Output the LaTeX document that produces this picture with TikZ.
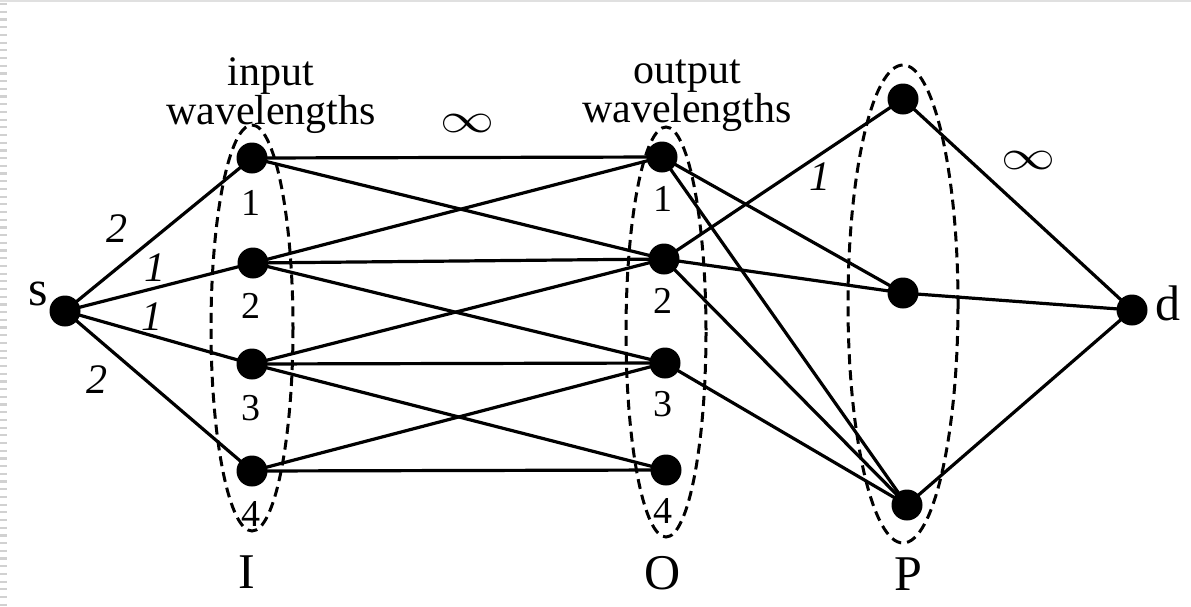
\documentclass[tikz,border=0pt]{standalone}
\usepackage{fontspec}
\setmainfont{Liberation Serif}
\begin{document}
\begin{tikzpicture}[x=1pt,y=-1pt,
  vtx/.style={circle,fill=black,inner sep=0pt,minimum size=31pt},
  link/.style={line width=3.2pt},
  grp/.style={line width=3pt,dash pattern=on 10pt off 6pt},
  idx/.style={font=\fontsize{38}{40}\selectfont,inner sep=0pt},
  wt/.style={font=\fontsize{42}{44}\selectfont\itshape,inner sep=0pt},
  grouptitle/.style={font=\fontsize{42}{33}\selectfont,align=center,inner sep=0pt},
  setname/.style={font=\fontsize{50}{54}\selectfont,inner sep=0pt},
  endname/.style={font=\fontsize{50}{54}\selectfont,inner sep=0pt}]
\useasboundingbox (0,0) rectangle (1191,606);
% faint frame on the top and left edges
\draw[black!12,line width=2pt] (0,1) -- (1191,1);
\draw[black!18,line width=7pt,dash pattern=on 2.2pt off 5.5pt] (3.5,3) -- (3.5,606);

% wavelength groups
\draw[grp] (252,328) ellipse [x radius=41,y radius=203];
\draw[grp] (666,332) ellipse [x radius=40,y radius=205];
\draw[grp] (903,304) ellipse [x radius=55,y radius=239];

% vertices
\node[vtx] (s) at (65,311) {};
\node[vtx] (i1) at (252,158) {};
\node[vtx] (i2) at (253,263) {};
\node[vtx] (i3) at (252,364) {};
\node[vtx] (i4) at (252,471) {};
\node[vtx] (o1) at (662,157) {};
\node[vtx] (o2) at (664,259) {};
\node[vtx] (o3) at (665,363) {};
\node[vtx] (o4) at (666,470) {};
\node[vtx] (p1) at (903,99) {};
\node[vtx] (p2) at (903,293) {};
\node[vtx] (p3) at (907,505) {};
\node[vtx] (d) at (1132,310) {};

% edges
\foreach \a/\b in {s/i1,s/i2,s/i3,s/i4,
  i1/o1,i1/o2,i2/o1,i2/o2,i2/o3,i3/o2,i3/o3,i3/o4,i4/o3,i4/o4,
  o1/p2,o1/p3,o2/p1,o2/p2,o2/p3,o3/p3,
  p1/d,p2/d,p3/d}
  \draw[link] (\a.center) -- (\b.center);

% vertex labels
\node[idx] (li1) at (251,203) {1};
\node[idx] (li2) at (251,306) {2};
\node[idx] (li3) at (251,408) {3};
\node[idx] (li4) at (251,514) {4};
\node[idx] (lo1) at (663,199) {1};
\node[idx] (lo2) at (663,301) {2};
\node[idx] (lo3) at (663,404) {3};
\node[idx] (lo4) at (663,511) {4};
\node[endname] (ls) at (38,294) {s};
\node[endname] (ld) at (1168,303) {d};

% group names
\node[setname] (nI) at (247,572) {I};
\node[setname] (nO) at (663,573) {O};
\node[setname] (nP) at (908,574) {P};
\node[grouptitle] (ci) at (271,96) {input\\wavelengths};
\node[grouptitle] (co) at (687,96) {output\\wavelengths};

% capacities
\node[wt] (w1) at (117,229) {2};
\node[wt] (w2) at (155,268) {1};
\node[wt] (w3) at (152,317) {1};
\node[wt] (w4) at (97,380) {2};
\node[wt] (w5) at (820,177) {1};
\node (inf1) at (467,123) {\resizebox{54pt}{18pt}{$\infty$}};
\node (inf2) at (1028,160) {\resizebox{54pt}{18pt}{$\infty$}};
\end{tikzpicture}
\end{document}
